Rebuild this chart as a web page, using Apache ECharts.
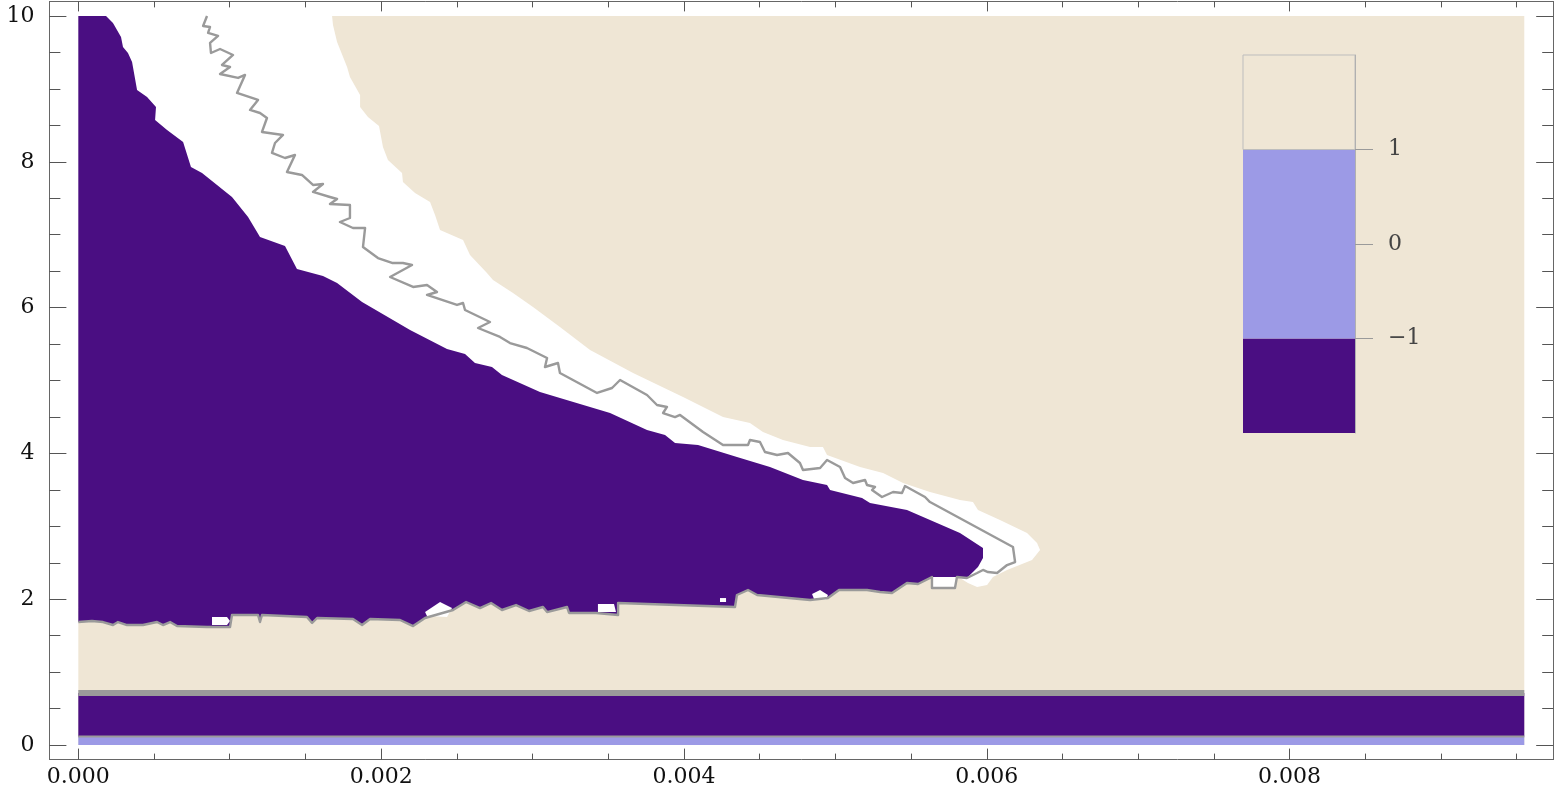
<!DOCTYPE html>
<html><head><meta charset="utf-8">
<script src="https://cdn.jsdelivr.net/npm/echarts@6/dist/echarts.min.js"></script>
<style>html,body{margin:0;padding:0;background:#fff}#c{width:1555px;height:785px}</style>
</head><body><div id="c"></div>
<script>
// ---------------- data ----------------
const xDataRange = [0, 0.00955];
const yDataRange = [0, 10];
const xTicks = [0, 0.002, 0.004, 0.006, 0.008];
const yTicks = [0, 2, 4, 6, 8, 10];
const colorbarTicks = [-1, 0, 1];
const colorbarEdges = [-2, -1, 1, 2];
const colorbarLevels = [-1, 0, 1];

// bottom flat bands (level between edges)
const bandEdges = [0, 0.117, 0.713];
const bandLevels = [0, -1];
const flatContours = [0.117, 0.713];

// upper boundary of the main level -1 region (from top-left to tip)
const purpleUpper = [[0,10],[0.000183,10],[0.000229,9.904],[0.000282,9.712],[0.000295,9.575],[0.000328,9.492],[0.000355,9.369],[0.000388,8.985],[0.000454,8.889],[0.000513,8.752],[0.000507,8.573],[0.000586,8.436],[0.000692,8.272],[0.000744,7.929],[0.000817,7.846],[0.001015,7.517],[0.001121,7.243],[0.0012,6.968],[0.001365,6.845],[0.001444,6.529],[0.001616,6.433],[0.001709,6.337],[0.001874,6.077],[0.002078,5.83],[0.002191,5.693],[0.002435,5.432],[0.002554,5.363],[0.00262,5.24],[0.002732,5.185],[0.002798,5.075],[0.003049,4.842],[0.003181,4.76],[0.003512,4.554],[0.003756,4.321],[0.003875,4.252],[0.003941,4.143],[0.004093,4.115],[0.00435,3.951],[0.004568,3.813],[0.004786,3.635],[0.004945,3.567],[0.004965,3.498],[0.005176,3.388],[0.005229,3.32],[0.005473,3.224],[0.005671,3.045],[0.005823,2.908],[0.005975,2.702]];
const purpleTip = [[0.005975,2.565],[0.005942,2.442]];
// lower boundary of the level -1 region = lower contour (tip back to x = 0)
const lowerContour = [[0.005869,2.291],[0.005803,2.305],[0.00579,2.154],[0.005638,2.154],[0.005638,2.305],[0.005546,2.209],[0.005473,2.222],[0.005374,2.085],[0.005295,2.099],[0.005209,2.126],[0.005097,2.126],[0.005024,2.126],[0.004951,2.016],[0.004833,1.989],[0.004483,2.058],[0.004423,2.126],[0.00435,2.058],[0.004337,1.893],[0.003565,1.948],[0.003565,1.783],[0.003419,1.811],[0.003241,1.811],[0.003228,1.893],[0.003096,1.824],[0.003069,1.893],[0.002977,1.838],[0.002891,1.92],[0.002798,1.852],[0.002726,1.948],[0.002653,1.879],[0.002561,1.962],[0.002475,1.852],[0.00229,1.742],[0.002211,1.632],[0.002125,1.715],[0.001927,1.728],[0.001874,1.646],[0.001814,1.728],[0.001577,1.742],[0.001544,1.674],[0.00151,1.756],[0.001213,1.783],[0.0012,1.687],[0.001187,1.783],[0.001015,1.783],[0.001002,1.619],[0.00085,1.619],[0.000652,1.632],[0.000606,1.687],[0.000559,1.646],[0.00052,1.687],[0.000427,1.646],[0.000322,1.646],[0.000262,1.687],[0.000229,1.646],[0.000163,1.687],[0.00009,1.701],[0,1.687]];
// jagged contour in the white gap (top down to the tip)
const contourUpper = [[0.00085,10],[0.000824,9.863],[0.00087,9.849],[0.000857,9.767],[0.000923,9.726],[0.00087,9.63],[0.000876,9.492],[0.000936,9.547],[0.001022,9.465],[0.000949,9.328],[0.001002,9.3],[0.000936,9.204],[0.001055,9.15],[0.001101,9.191],[0.001048,8.944],[0.001187,8.848],[0.001134,8.711],[0.0012,8.669],[0.001246,8.601],[0.001213,8.409],[0.001352,8.368],[0.001299,8.258],[0.001279,8.121],[0.001365,8.052],[0.001431,8.093],[0.001378,7.86],[0.001477,7.819],[0.00155,7.682],[0.001616,7.695],[0.00155,7.586],[0.001662,7.517],[0.001709,7.49],[0.001662,7.421],[0.001794,7.407],[0.001794,7.229],[0.001728,7.174],[0.001814,7.092],[0.001894,7.092],[0.00188,6.831],[0.001979,6.68],[0.002072,6.612],[0.002144,6.612],[0.002204,6.584],[0.002059,6.42],[0.002211,6.283],[0.002303,6.31],[0.002369,6.214],[0.002303,6.173],[0.002501,6.036],[0.002541,6.063],[0.002554,5.967],[0.002719,5.802],[0.00264,5.72],[0.002785,5.597],[0.002851,5.514],[0.002963,5.446],[0.003096,5.309],[0.003082,5.185],[0.003168,5.24],[0.003181,5.103],[0.003426,4.829],[0.003525,4.897],[0.003578,5.007],[0.003756,4.801],[0.003822,4.664],[0.003888,4.637],[0.003862,4.554],[0.003941,4.499],[0.003974,4.527],[0.004126,4.294],[0.004258,4.115],[0.004423,4.115],[0.004436,4.184],[0.004502,4.156],[0.004535,4.019],[0.004615,3.978],[0.004687,4.005],[0.004766,3.868],[0.004786,3.772],[0.004899,3.8],[0.004945,3.909],[0.005031,3.813],[0.005064,3.663],[0.005117,3.594],[0.005196,3.635],[0.005209,3.567],[0.005262,3.539],[0.005242,3.498],[0.005308,3.402],[0.005381,3.471],[0.00544,3.457],[0.00546,3.553],[0.005592,3.402],[0.005625,3.333],[0.006173,2.716]];
const contourTip = [[0.006187,2.51],[0.006134,2.469],[0.006068,2.359],[0.006008,2.373],[0.005975,2.401],[0.005936,2.359]];
// boundary of the level 1 region facing the white gap
const beigeBoundary = [[0.001676,10],[0.001682,9.877],[0.001709,9.643],[0.001775,9.3],[0.001794,9.163],[0.001861,8.916],[0.001861,8.752],[0.001913,8.615],[0.001986,8.491],[0.002012,8.203],[0.002045,8.025],[0.002138,7.846],[0.002144,7.723],[0.002224,7.572],[0.002323,7.449],[0.002356,7.27],[0.002389,7.064],[0.002541,6.927],[0.002587,6.722],[0.002699,6.475],[0.002739,6.379],[0.002871,6.2],[0.003003,6.008],[0.003181,5.734],[0.00338,5.418],[0.003664,5.103],[0.003994,4.774],[0.004258,4.499],[0.004436,4.417],[0.004522,4.294],[0.004654,4.184],[0.004833,4.088],[0.004918,4.088],[0.004945,3.978],[0.005163,3.813],[0.005315,3.731],[0.005447,3.594],[0.005625,3.471],[0.005823,3.361],[0.005909,3.333],[0.005942,3.224],[0.006087,3.086],[0.006266,2.908],[0.006332,2.771],[0.006352,2.675],[0.006299,2.538],[0.006134,2.401],[0.006041,2.305],[0.006002,2.195],[0.005936,2.167],[0.005876,2.222],[0.005823,2.291]];
const whiteClose = [[0.005757,2.469],[0,2.538],[0,10]];
// small white holes along the lower contour
const islands = [
  [[0.000883,1.756],[0.000982,1.756],[0.001002,1.701],[0.000982,1.646],[0.000883,1.646]],
  [[0.002389,1.962],[0.002468,1.879],[0.002435,1.756],[0.002303,1.77],[0.00229,1.824]],
  [[0.003432,1.934],[0.003538,1.934],[0.003551,1.824],[0.003432,1.824]],
  [[0.004846,2.071],[0.004899,2.126],[0.004951,2.058],[0.004938,1.989],[0.004859,2.003]],
  [[0.004238,2.016],[0.004278,2.016],[0.004278,1.962],[0.004238,1.962]],
  [[0.005638,2.305],[0.005797,2.305],[0.005797,2.154],[0.005638,2.154]]
];

// ---------------- build ----------------
const levelColors = {'-1':'#4a0e82','0':'#9c9ae6','1':'#efe6d5'};
const colorOf = l => l === null ? '#ffffff' : levelColors[String(l)];
const xPad = 0.02*(xDataRange[1]-xDataRange[0]), yPad = 0.02*(yDataRange[1]-yDataRange[0]);
const xMin = xDataRange[0]-xPad, xMax = xDataRange[1]+xPad;
const yMin = yDataRange[0]-yPad, yMax = yDataRange[1]+yPad;

const rectPts = (x0,x1,y0,y1) => [[x0,y0],[x1,y0],[x1,y1],[x0,y1]];
const regions = [];
regions.push({pts: rectPts(xDataRange[0], xDataRange[1], yDataRange[0], yDataRange[1]), level: 1});
bandLevels.forEach((l,i) => regions.push({pts: rectPts(xDataRange[0], xDataRange[1], bandEdges[i], bandEdges[i+1]), level: l}));
regions.push({pts: beigeBoundary.concat(whiteClose), level: null});
regions.push({pts: purpleUpper.concat(purpleTip, lowerContour), level: -1});
islands.forEach(p => regions.push({pts: p, level: null}));

const flatWidths = [2, 6];
const lines = [{pts: contourUpper.concat(contourTip, lowerContour), w: 2.4}];
flatContours.forEach((y,i) => lines.push({pts: [[xDataRange[0],y],[xDataRange[1],y]], w: flatWidths[i]}));

const step = (a,b,s) => { const r=[]; for(let k=Math.ceil(a/s);k*s<=b+1e-12;k++) r.push(+(k*s).toFixed(6)); return r; };
const xMinor = step(0, xMax, 0.0005).filter(v => !xTicks.some(t => Math.abs(t-v)<1e-9));
const yMinor = step(0, yMax, 0.5).filter(v => !yTicks.some(t => Math.abs(t-v)<1e-9));

const font = {fontFamily:'DejaVu Serif', fontSize:22, color:'#111'};
const gridRect = {left:49.4, right:1.8, top:1.4, bottom:25.4, outerBoundsMode:'none', containLabel:false};
const lineC = '#666', tickC = '#555';

function xAx(grid, pos, ticks, len, showLine, label) {
  return {type:'value', gridIndex:grid, position:pos, min:xMin, max:xMax, z:10,
    axisLine:{show:showLine, onZero:false, lineStyle:{color:lineC, width:1}},
    splitLine:{show:false},
    axisTick:{show:true, inside:true, length:len, customValues:ticks, lineStyle:{color:tickC, width:1}},
    axisLabel: label ? Object.assign({show:true, customValues:xTicks, margin:7, formatter:v=>v.toFixed(3)}, font) : {show:false}};
}
function yAx(grid, pos, ticks, len, showLine, label) {
  return {type:'value', gridIndex:grid, position:pos, min:yMin, max:yMax, z:10,
    axisLine:{show:showLine, onZero:false, lineStyle:{color:lineC, width:1}},
    splitLine:{show:false},
    axisTick:{show:true, inside:true, length:len, customValues:ticks, lineStyle:{color:tickC, width:1}},
    axisLabel: label ? Object.assign({show:true, customValues:yTicks, margin:15, formatter:v=>String(v)}, font) : {show:false}};
}

const option = {
  animation:false,
  backgroundColor:'#ffffff',
  grid:[Object.assign({}, gridRect), Object.assign({}, gridRect),
    {left:1243, width:112, top:55, height:378, outerBoundsMode:'none', containLabel:false}],
  xAxis:[
    xAx(0,'bottom',xTicks,11,true,true),
    xAx(0,'top',xTicks,10,true,false),
    xAx(1,'bottom',xMinor,6,false,false),
    xAx(1,'top',xMinor,6,false,false),
    {type:'value', gridIndex:2, min:0, max:1, show:false, axisLine:{onZero:false}}
  ],
  yAxis:[
    yAx(0,'left',yTicks,17,true,true),
    yAx(0,'right',yTicks,17,true,false),
    yAx(1,'left',yMinor,11,false,false),
    yAx(1,'right',yMinor,11,false,false),
    {type:'value', gridIndex:2, position:'right', z:10, min:colorbarEdges[0], max:colorbarEdges[colorbarEdges.length-1],
      axisLine:{show:true, onZero:false, lineStyle:{color:'#b0b0b0', width:1}},
      splitLine:{show:false},
      axisTick:{show:true, inside:false, length:18, customValues:colorbarTicks, lineStyle:{color:'#9a9a9a', width:1}},
      axisLabel:Object.assign({show:true, customValues:colorbarTicks, margin:33,
        formatter:v=> v<0 ? '\u2212'+Math.abs(v) : String(v)}, font, {color:'#444'})}
  ],
  series:[
    {type:'custom', xAxisIndex:0, yAxisIndex:0, silent:true, z:1,
      data: regions.map(r => r.pts[0]),
      renderItem:(params, api) => {
        const r = regions[params.dataIndex];
        return {type:'polygon', shape:{points: r.pts.map(p => api.coord(p))}, style:{fill: colorOf(r.level)}};
      }},
    {type:'custom', xAxisIndex:0, yAxisIndex:0, silent:true, z:2,
      data: lines.map(l => l.pts[0]),
      renderItem:(params, api) => {
        const l = lines[params.dataIndex];
        return {type:'polyline', shape:{points: l.pts.map(p => api.coord(p))},
          style:{stroke:'#9a9a9a', lineWidth:l.w, fill:null, lineJoin:'round'}};
      }},
    {type:'custom', xAxisIndex:4, yAxisIndex:4, silent:true, z:3,
      data: colorbarLevels.map((l,i) => [0, colorbarEdges[i]]),
      renderItem:(params, api) => {
        const i = params.dataIndex;
        const p0 = api.coord([0, colorbarEdges[i]]), p1 = api.coord([1, colorbarEdges[i+1]]);
        const isTop = i === colorbarLevels.length-1;
        return {type:'rect', shape:{x:p0[0], y:p1[1], width:p1[0]-p0[0], height:p0[1]-p1[1]},
          style:{fill: colorOf(colorbarLevels[i]), stroke: isTop ? '#bdbdbd' : null, lineWidth: 1}};
      }}
  ]
};
const chart = echarts.init(document.getElementById('c'), null, {renderer:'canvas'});
chart.setOption(option);
</script></body></html>
